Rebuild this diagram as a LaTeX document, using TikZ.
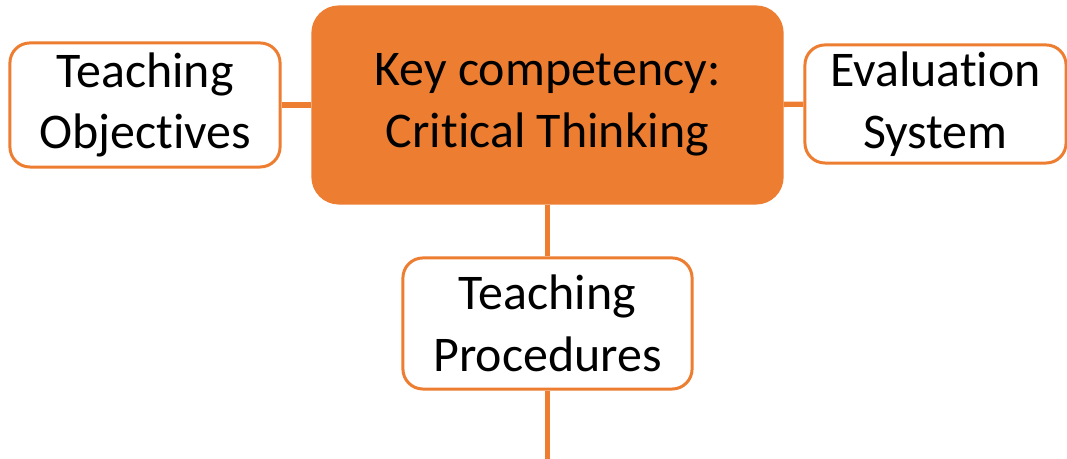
\documentclass[tikz,border=0pt]{standalone}
\usepackage{fontspec}
\setmainfont[Ligatures=NoCommon]{Carlito}
\definecolor{accent}{HTML}{ED7D31}
\begin{document}
\begin{tikzpicture}[x=0.01cm,y=0.01cm,
  topic/.style={draw=accent,line width=0.85pt,fill=white,rounded corners=0.2cm,
    inner sep=0pt,align=center,font=\fontsize{14.2}{17.6}\selectfont},
  core/.style={topic,fill=accent,rounded corners=0.26cm},
  link/.style={draw=accent,line width=1.5pt}]
\useasboundingbox (0,0) rectangle (1067,459);
\node (core) [core,minimum width=4.69cm,minimum height=1.96cm] at (547.5,354)
	{Key competency:\\Critical Thinking};
\node (obj) [topic,minimum width=2.7cm,minimum height=1.24cm] at (145,354)
	{Teaching\\Objectives};
\node (eval) [topic,minimum width=2.61cm,minimum height=1.18cm] at (935.5,355)
	{Evaluation\\System};
\node (proc) [topic,minimum width=2.89cm,minimum height=1.31cm] at (547.5,135.5)
	{Teaching\\Procedures};
\coordinate (tail) at (547.5,0);
\draw [link] (obj) -- (core);
\draw [link] (core) -- (eval);
\draw [link] (core) -- (proc);
\draw [link] (proc) -- (tail);
\end{tikzpicture}
\end{document}
